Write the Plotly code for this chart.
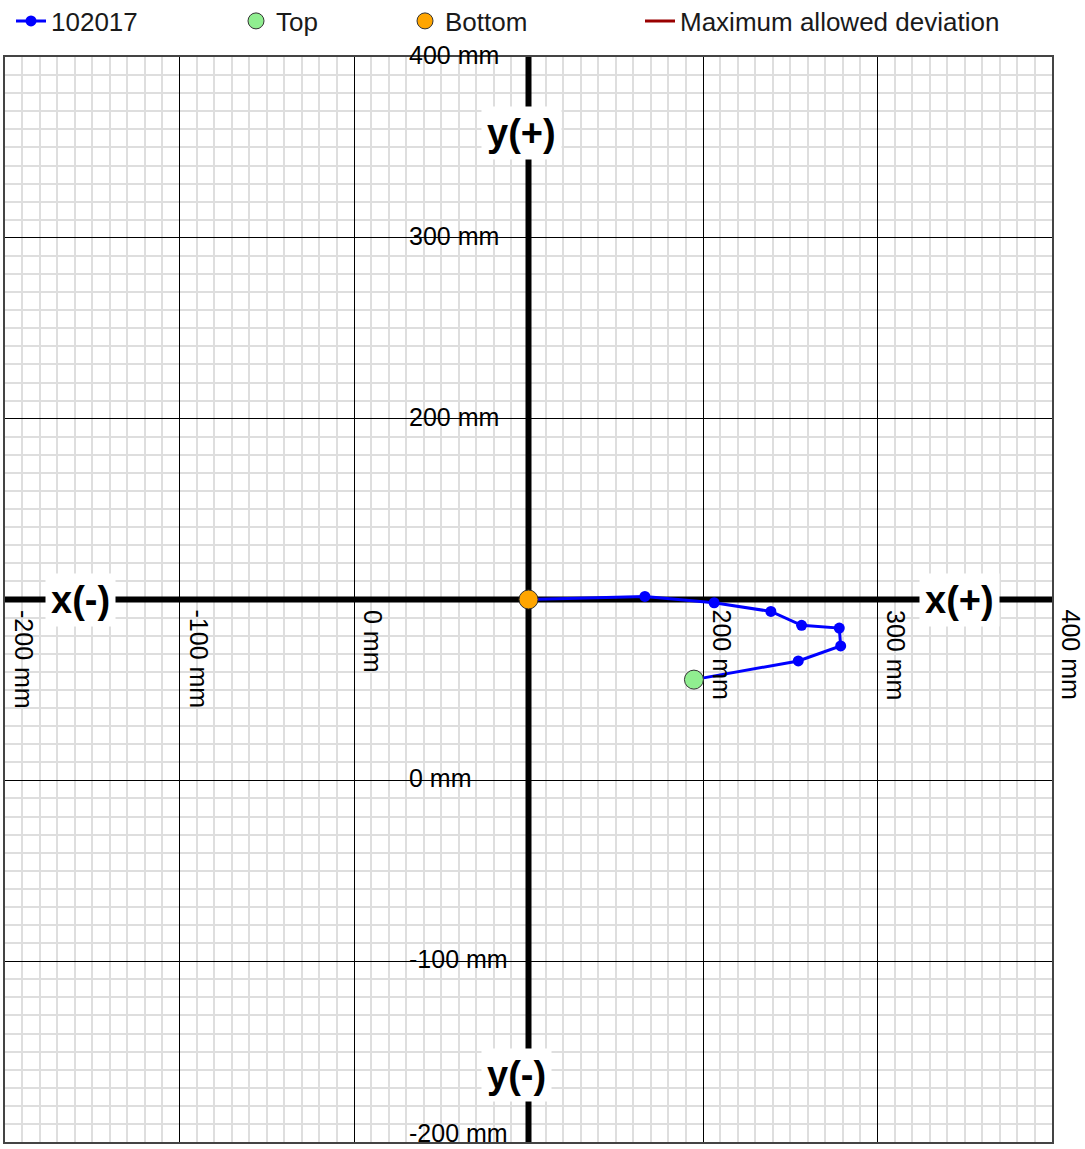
import plotly.graph_objects as go

FONT = "Liberation Sans, Arial, sans-serif"

# measured path, bottom -> top (mm)
path_x = [100, 166.7, 206.4, 238.9, 256.5, 278.1, 278.9, 254.6, 194.8]
path_y = [100, 101.7, 98.2, 93.4, 85.7, 84.2, 74.3, 66.0, 55.7]
series_name = "102017"

top_x, top_y = [194.8], [55.7]
bottom_x, bottom_y = [100], [100]

x_ticks = [-200, -100, 0, 200, 300, 400]
y_ticks = [400, 300, 200, 0, -100, -200]
axis_cross = 100

W, H = 1085, 1149
L, R, T, B = 5, 33, 57, 7

fig = go.Figure()

fig.add_trace(go.Scatter(x=path_x, y=path_y, mode="lines+markers", name=series_name,
                         line=dict(color="#0000ff", width=3),
                         marker=dict(color="#0000ff", size=11), legend="legend"))
fig.add_trace(go.Scatter(x=top_x, y=top_y, mode="markers", name="Top",
                         marker=dict(color="#90ee90", size=19, line=dict(color="#333333", width=1)),
                         legend="legend2"))
fig.add_trace(go.Scatter(x=bottom_x, y=bottom_y, mode="markers", name="Bottom",
                         marker=dict(color="#ffa500", size=19, line=dict(color="#333333", width=1)),
                         legend="legend3"))
fig.add_trace(go.Scatter(x=[None], y=[None], mode="lines", name="Maximum allowed deviation",
                         line=dict(color="#990000", width=3), legend="legend4"))

# thick axes through the crossing point
fig.add_shape(type="line", x0=-200, x1=400, y0=axis_cross, y1=axis_cross,
              line=dict(color="black", width=6), layer="between")
fig.add_shape(type="line", x0=axis_cross, x1=axis_cross, y0=-200, y1=400,
              line=dict(color="black", width=6), layer="between")

# tick labels
for v in x_ticks:
    fig.add_annotation(x=v, y=axis_cross, text=f"{v} mm", textangle=90, showarrow=False,
                       xanchor="left", yanchor="top", xshift=3, yshift=-8,
                       font=dict(family=FONT, size=25, color="black"))
for v in y_ticks:
    fig.add_annotation(x=31, y=v, text=f"{v} mm", showarrow=False,
                       xanchor="left", yanchor="middle", yshift=9 if v == -200 else 2,
                       borderpad=0,
                       font=dict(family=FONT, size=25, color="black"))

# axis direction labels
for txt, x, y in [("x(-)", -157, 100), ("x(+)", 347, 100), ("y(+)", 96, 358), ("y(-)", 93, -163)]:
    fig.add_annotation(x=x, y=y, text=f"<b>{txt}</b>", showarrow=False, bgcolor="white",
                       borderpad=5, font=dict(family=FONT, size=38, color="black"))

leg = dict(orientation="h", xref="container", yref="container", yanchor="middle",
           bgcolor="rgba(0,0,0,0)", font=dict(family=FONT, size=26, color="#1a1a1a"))
fig.update_layout(
    width=W, height=H,
    margin=dict(l=L, r=R, t=T, b=B),
    paper_bgcolor="white", plot_bgcolor="white",
    showlegend=True,
    legend=dict(leg, x=11 / W, y=1 - 21 / H),
    legend2=dict(leg, x=236 / W, y=1 - 21 / H),
    legend3=dict(leg, x=405 / W, y=1 - 21 / H),
    legend4=dict(leg, x=640 / W, y=1 - 21 / H),
    xaxis=dict(range=[-200, 400], dtick=100, tick0=0, showticklabels=False, ticks="",
               showgrid=True, gridcolor="black", gridwidth=1, zeroline=False,
               showline=True, linecolor="#444444", linewidth=2, mirror=True,
               minor=dict(dtick=10, showgrid=True, gridcolor="#dedede", gridwidth=1.5)),
    yaxis=dict(range=[-200, 400], dtick=100, tick0=0, showticklabels=False, ticks="",
               showgrid=True, gridcolor="black", gridwidth=1, zeroline=False,
               showline=True, linecolor="#444444", linewidth=2, mirror=True,
               minor=dict(dtick=10, showgrid=True, gridcolor="#dedede", gridwidth=1.5)),
)

fig.write_html("out.html", config={"displayModeBar": False},
               post_script="document.body.style.margin='0';")
